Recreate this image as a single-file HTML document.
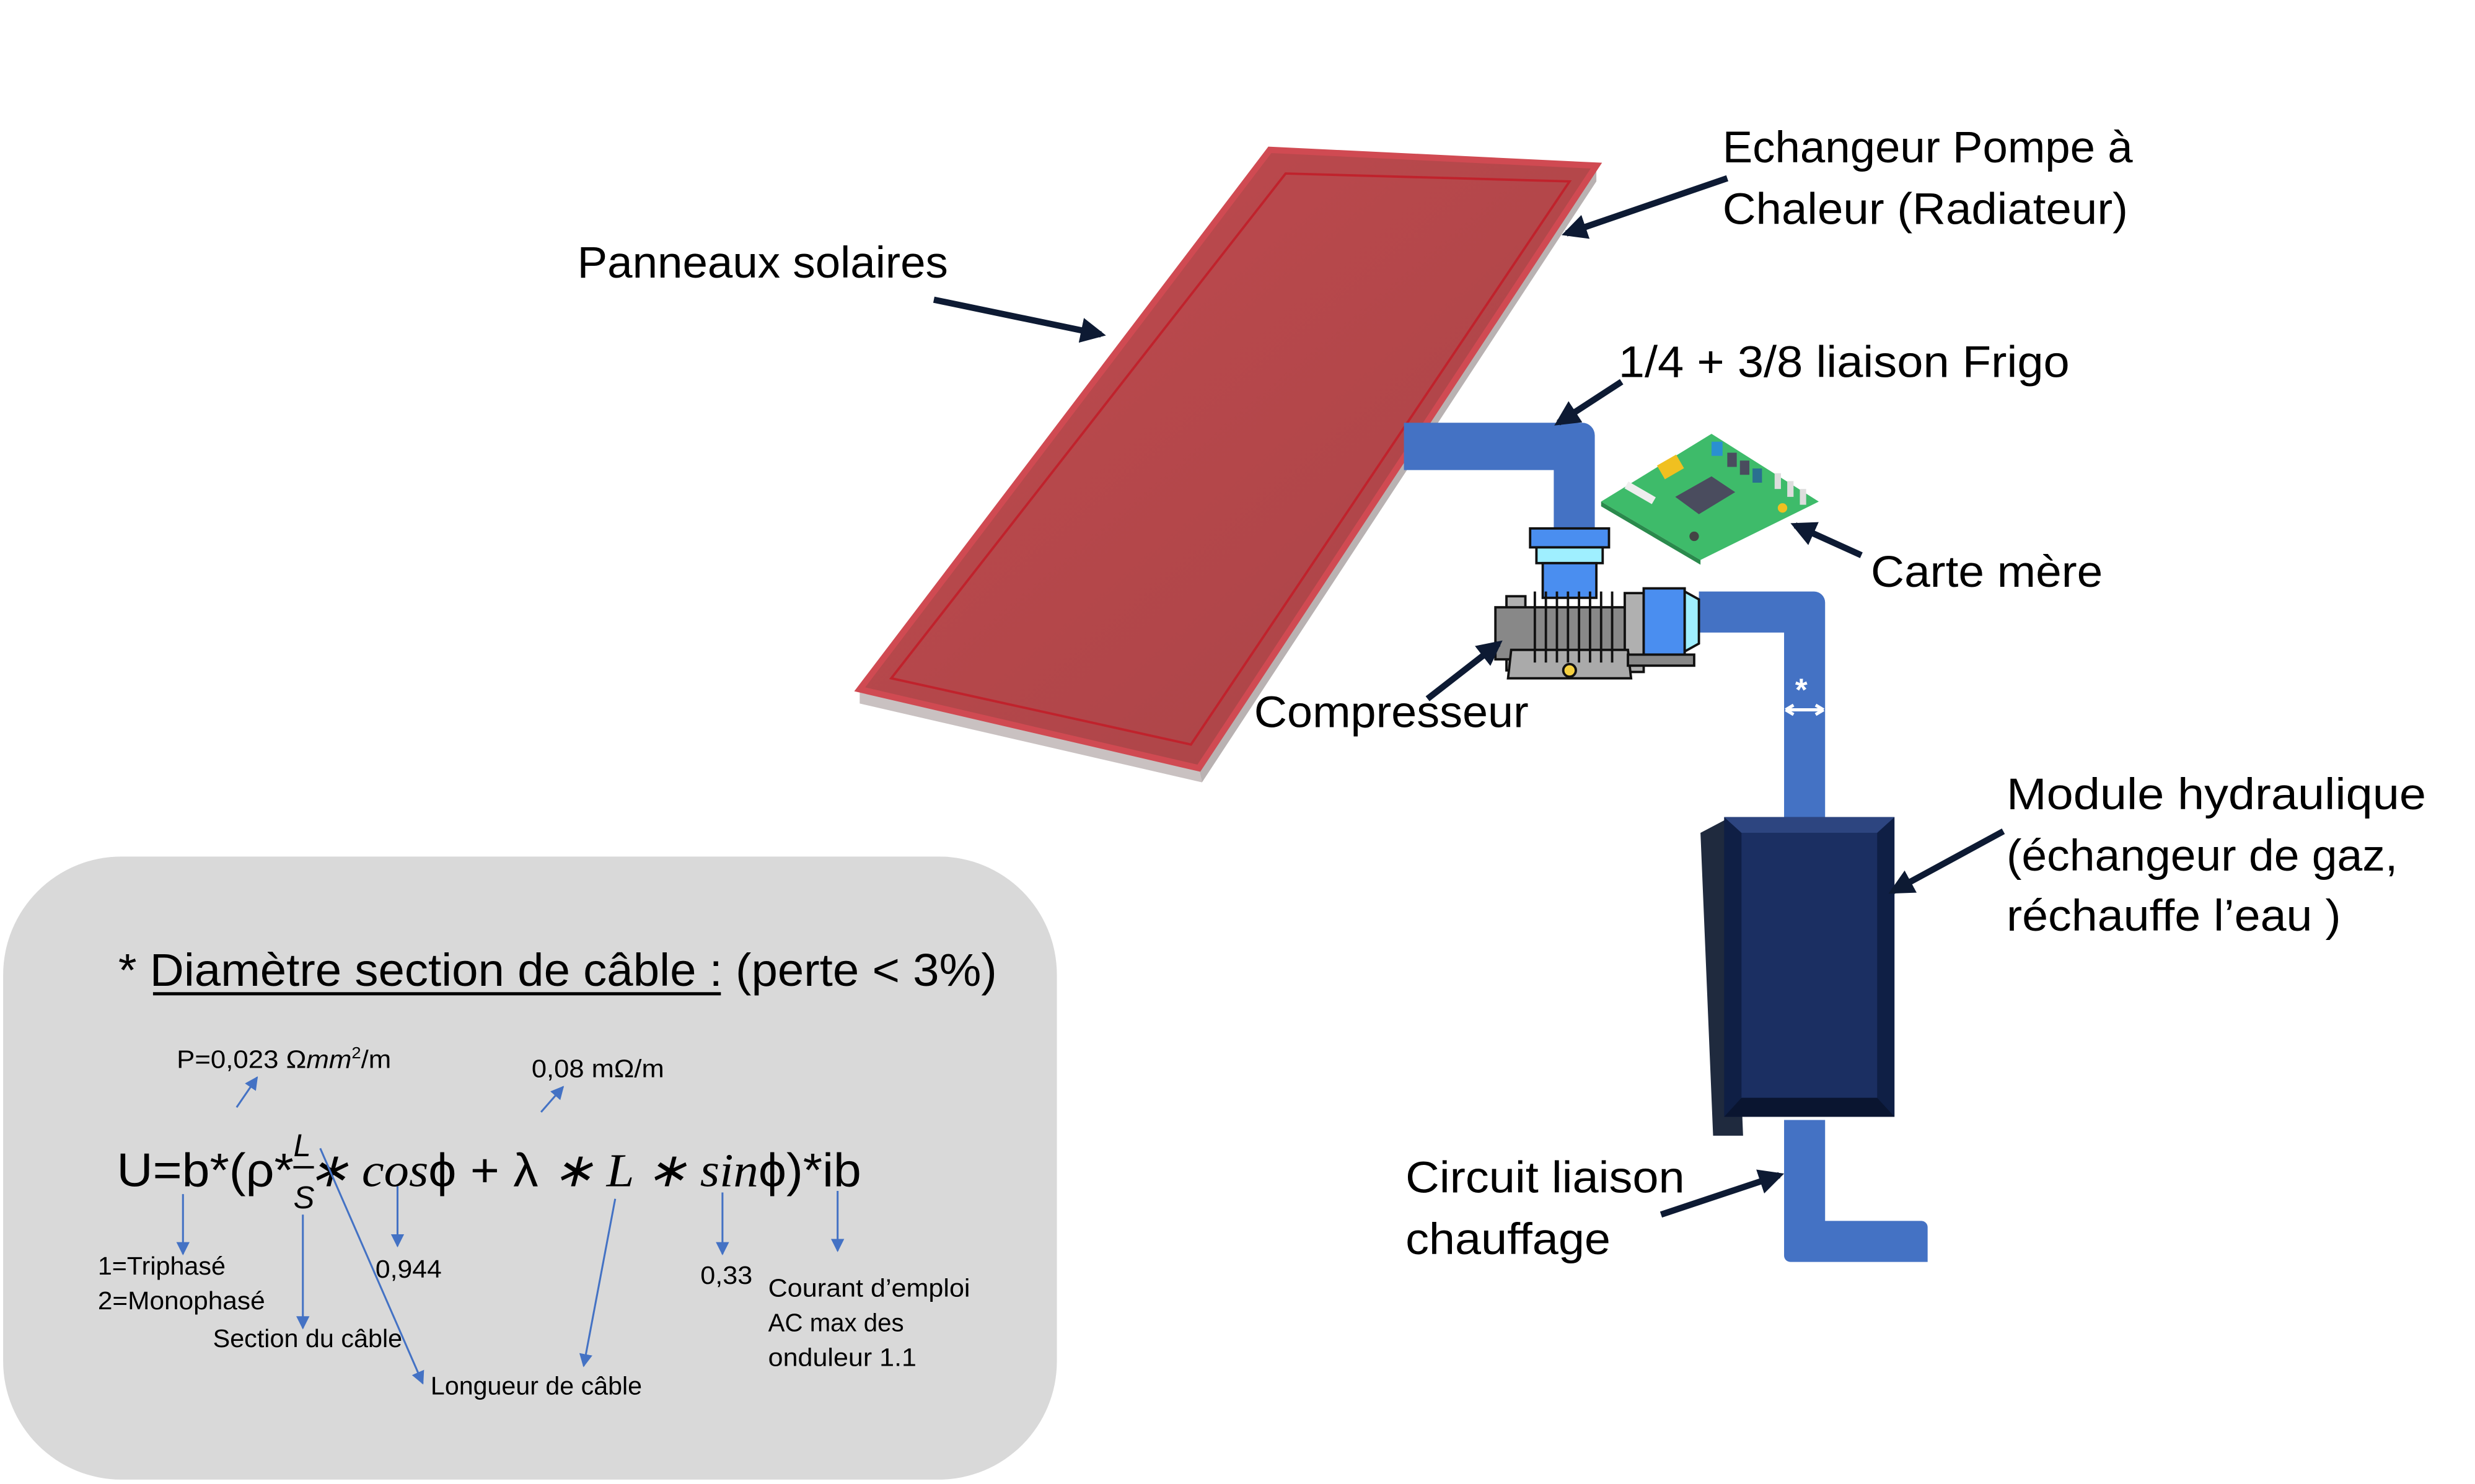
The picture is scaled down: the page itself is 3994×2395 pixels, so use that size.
<!DOCTYPE html>
<html><head><meta charset="utf-8"><style>
html,body{margin:0;padding:0;background:#fff;}
svg{display:block;}
text{font-family:"Liberation Sans",sans-serif;}
</style></head><body>
<svg width="3994" height="2395" viewBox="0 0 1569 940.8" preserveAspectRatio="none" xmlns="http://www.w3.org/2000/svg">
<defs>
<marker id="ah" viewBox="0 0 10 10" refX="8" refY="5" markerWidth="4" markerHeight="4" orient="auto-start-reverse"><path d="M0,0 L10,5 L0,10 z" fill="#0d1a33"/></marker>
<marker id="bh" viewBox="0 0 10 10" refX="9" refY="5" markerWidth="7" markerHeight="7" orient="auto"><path d="M0,0 L10,5 L0,10 z" fill="#4472c4"/></marker>
<linearGradient id="panelg" x1="0" y1="0" x2="1" y2="1"><stop offset="0" stop-color="#c04a4e"/><stop offset="1" stop-color="#a84447"/></linearGradient>
</defs>
<rect width="1600" height="960" fill="#fff"/>

<rect x="2" y="543" width="668" height="395" rx="75" fill="#d9d9d9"/>

<g>
<polygon points="1012,105 1012,115 762,496 760,487" fill="#b9b2b2"/>
<polygon points="545,437 760,487 762,496 545,446" fill="#c9c1c1"/>
<polygon points="545,437 805,95 1012,105 760,487" fill="url(#panelg)" stroke="#d04a52" stroke-width="4"/>
<polygon points="565,430 815,110 995,115 755,472" fill="none" stroke="#c0222c" stroke-width="1.5"/>
</g>

<path d="M890,268 H1003 a8,8 0 0 1 8,8 V336 H985 V298 H890 Z" fill="#4472c4"/>
<path d="M1077,375 H1150 a7,7 0 0 1 7,7 V522 H1131 V401 H1077 Z" fill="#4472c4"/>
<path d="M1131,710 H1157 V774 H1218 a4,4 0 0 1 4,4 V800 H1135 a4,4 0 0 1 -4,-4 Z" fill="#4472c4"/>
<text x="1138" y="444" font-size="20" fill="#fff" font-weight="bold">*</text>
<path d="M1132,450 H1156 M1132,450 l5,-3 M1132,450 l5,3 M1156,450 l-5,-3 M1156,450 l-5,3" stroke="#fff" stroke-width="2" fill="none"/>

<g stroke="#111" stroke-width="1.5">
<rect x="970" y="335" width="50" height="12" fill="#4a8ef0"/>
<rect x="974" y="347" width="42" height="10" fill="#9fefff"/>
<rect x="978" y="357" width="34" height="22" fill="#4a8ef0"/>
<rect x="955" y="378" width="12" height="47" fill="#b0b0b0"/>
<rect x="948" y="385" width="110" height="33" fill="#888"/>
<rect x="1030" y="376" width="12" height="50" fill="#b0b0b0"/>
<rect x="1042" y="373" width="26" height="42" fill="#4a8ef0"/>
<polygon points="1068,375 1077,380 1077,408 1068,413" fill="#9fefff"/>
<polygon points="958,412 1032,412 1034,430 956,430" fill="#aaa"/>
<rect x="1032" y="415" width="42" height="7" fill="#888"/>
<circle cx="995" cy="425" r="4" fill="#f5d040"/>
<path d="M973,375 V420 M980,375 V420 M987,375 V420 M994,375 V420 M1001,375 V420 M1008,375 V420 M1015,375 V420 M1022,375 V420" fill="none"/>
</g>

<g>
<polygon points="1015,318 1085,275 1153,318 1078,355" fill="#3ebb6a"/>
<polygon points="1015,318 1078,355 1078,358 1015,321" fill="#2a8a4c"/>
<polygon points="1062,315 1085,302 1100,312 1077,326" fill="#4a4c5e"/>
<rect x="1052" y="291" width="14" height="10" fill="#f0c020" transform="rotate(-30 1059 296)"/>
<rect x="1085" y="280" width="7" height="9" fill="#2a90d0"/>
<rect x="1095" y="287" width="6" height="9" fill="#4a4c5e"/>
<rect x="1103" y="292" width="6" height="9" fill="#4a4c5e"/>
<rect x="1111" y="297" width="6" height="9" fill="#2a7090"/>
<rect x="1125" y="300" width="4" height="10" fill="#ddd"/>
<rect x="1133" y="305" width="4" height="10" fill="#ddd"/>
<rect x="1141" y="310" width="4" height="10" fill="#ddd"/>
<rect x="1030" y="310" width="20" height="5" fill="#eee" transform="rotate(30 1040 312)"/>
<circle cx="1130" cy="322" r="3" fill="#f0c020"/>
<circle cx="1074" cy="340" r="3" fill="#444"/>
</g>

<g>
<polygon points="1078,528 1097,518 1105,720 1086,720" fill="#1f2a3e"/>
<rect x="1093" y="518" width="108" height="190" fill="#0f1f45"/>
<rect x="1104" y="528" width="86" height="168" fill="#1b2f62"/>
<polygon points="1093,518 1201,518 1190,528 1104,528" fill="#2d4580"/>
<polygon points="1093,708 1201,708 1190,696 1104,696" fill="#0a1530"/>
</g>

<g stroke="#0d1a33" stroke-width="4" fill="none" marker-end="url(#ah)">
<line x1="592" y1="190" x2="698" y2="212"/>
<line x1="1095" y1="113" x2="993" y2="148"/>
<line x1="1028" y1="242" x2="988" y2="268"/>
<line x1="1180" y1="352" x2="1138" y2="333"/>
<line x1="905" y1="443" x2="950" y2="408"/>
<line x1="1270" y1="527" x2="1200" y2="565"/>
<line x1="1053" y1="770" x2="1128" y2="745"/>
</g>

<g font-size="28" fill="#000">
<text x="366" y="176" textLength="235" lengthAdjust="spacingAndGlyphs">Panneaux solaires</text>
<text x="1092" y="103" textLength="260" lengthAdjust="spacingAndGlyphs">Echangeur Pompe à</text>
<text x="1092" y="142" textLength="257" lengthAdjust="spacingAndGlyphs">Chaleur (Radiateur)</text>
<text x="1026" y="239" textLength="286" lengthAdjust="spacingAndGlyphs">1/4 + 3/8 liaison Frigo</text>
<text x="1186" y="372" textLength="147" lengthAdjust="spacingAndGlyphs">Carte mère</text>
<text x="795" y="461" textLength="174" lengthAdjust="spacingAndGlyphs">Compresseur</text>
<text x="1272" y="513" textLength="266" lengthAdjust="spacingAndGlyphs">Module hydraulique</text>
<text x="1272" y="552" textLength="248" lengthAdjust="spacingAndGlyphs">(échangeur de gaz,</text>
<text x="1272" y="590" textLength="212" lengthAdjust="spacingAndGlyphs">réchauffe l’eau )</text>
<text x="891" y="756" textLength="177" lengthAdjust="spacingAndGlyphs">Circuit liaison</text>
<text x="891" y="795" textLength="130" lengthAdjust="spacingAndGlyphs">chauffage</text>
</g>

<text x="75" y="625" font-size="29" textLength="557" lengthAdjust="spacingAndGlyphs">* Diamètre section de câble :  (perte &lt; 3%)</text>
<line x1="97" y1="630" x2="457" y2="630" stroke="#000" stroke-width="2"/>
<text x="74" y="752" font-size="30" textLength="472" lengthAdjust="spacingAndGlyphs">U=b*(ρ*  <tspan font-style="italic" font-family="Liberation Serif">∗ cos</tspan>ϕ + λ <tspan font-style="italic" font-family="Liberation Serif">∗ L ∗ sin</tspan>ϕ)*ib</text>
<text x="186" y="733" font-size="20" font-style="italic" font-family="Liberation Serif">L</text>
<line x1="186" y1="740" x2="199" y2="740" stroke="#000" stroke-width="1.5"/>
<text x="186" y="766" font-size="20" font-style="italic" font-family="Liberation Serif">S</text>

<g font-size="16" fill="#000">
<text x="112" y="677" textLength="136" lengthAdjust="spacingAndGlyphs">P=0,023 Ω<tspan font-style="italic">mm</tspan><tspan font-size="10" dy="-6">2</tspan><tspan dy="6">/m</tspan></text>
<text x="337" y="683" textLength="84" lengthAdjust="spacingAndGlyphs">0,08 mΩ/m</text>
<text x="62" y="808" textLength="81" lengthAdjust="spacingAndGlyphs">1=Triphasé</text>
<text x="62" y="830" textLength="106" lengthAdjust="spacingAndGlyphs">2=Monophasé</text>
<text x="135" y="854" textLength="120" lengthAdjust="spacingAndGlyphs">Section du câble</text>
<text x="238" y="810" textLength="42" lengthAdjust="spacingAndGlyphs">0,944</text>
<text x="444" y="814" textLength="33" lengthAdjust="spacingAndGlyphs">0,33</text>
<text x="273" y="884" textLength="134" lengthAdjust="spacingAndGlyphs">Longueur de câble</text>
<text x="487" y="822" textLength="128" lengthAdjust="spacingAndGlyphs">Courant d’emploi</text>
<text x="487" y="844" textLength="86" lengthAdjust="spacingAndGlyphs">AC max des</text>
<text x="487" y="866" textLength="94" lengthAdjust="spacingAndGlyphs">onduleur 1.1</text>
</g>

<g stroke="#4472c4" stroke-width="1.2" fill="none" marker-end="url(#bh)">
<line x1="116" y1="757" x2="116" y2="795"/>
<line x1="192" y1="770" x2="192" y2="842"/>
<line x1="252" y1="752" x2="252" y2="790"/>
<line x1="458" y1="756" x2="458" y2="795"/>
<line x1="531" y1="755" x2="531" y2="793"/>
<line x1="150" y1="702" x2="163" y2="683"/>
<line x1="343" y1="705" x2="357" y2="689"/>
<line x1="203" y1="728" x2="268" y2="877"/>
<line x1="390" y1="760" x2="370" y2="866"/>
</g>
</svg>
</body></html>
